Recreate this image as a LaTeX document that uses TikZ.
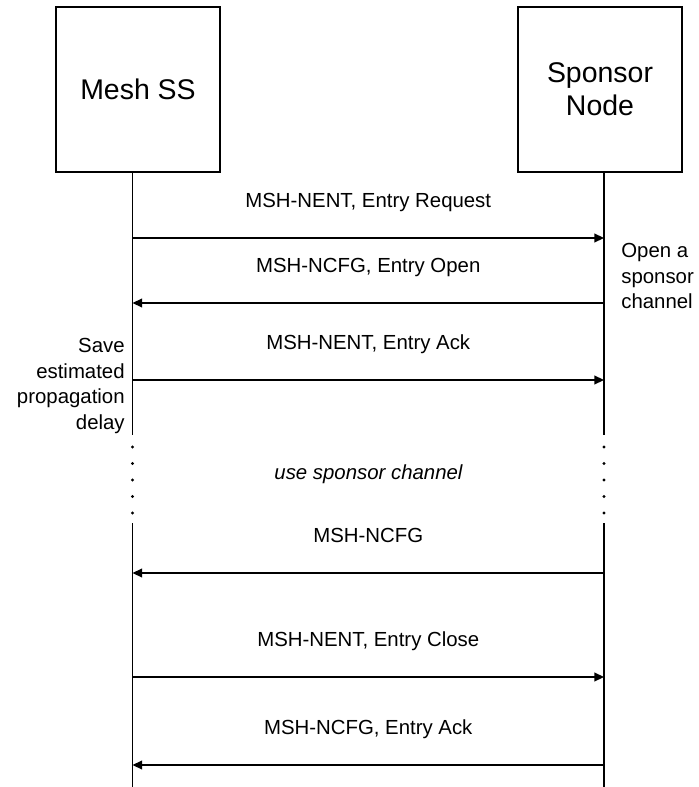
\documentclass[tikz,border=0pt]{standalone}
\usepackage{fontspec}
\setmainfont{Liberation Sans}
\usetikzlibrary{positioning, arrows.meta, calc}

\begin{document}
\begin{tikzpicture}[
  x=0.02cm, y=-0.02cm,
  font=\fontsize{11.6pt}{14.7pt}\selectfont,
  party/.style={draw, line width=0.6pt, minimum width=3.28cm,
                minimum height=3.3cm, align=center, inner sep=0pt,
                font=\fontsize{16.2pt}{18.7pt}\selectfont},
  life/.style={line width=0.6pt},
  msg/.style={-{Triangle[length=5.5pt, width=5pt]}, line width=0.9pt},
  lbl/.style={anchor=base, yshift=17.5pt},
  note/.style={inner sep=0pt},
]
\useasboundingbox (0,0) rectangle (698,787);

\node[party] (mesh) at (138, 89.5) {Mesh SS};
\node[party] (spon) at (600, 89.5) {Sponsor\\Node};

% lifelines, broken by the dotted gap
\coordinate (meshgap) at (132.5, 435);
\coordinate (spongap) at (604, 435);
\coordinate (meshres) at (132.5, 523);
\coordinate (sponres) at (604, 523);
\coordinate (meshend) at (132.5, 787);
\coordinate (sponend) at (604, 787);
\draw[life] (mesh.south -| meshgap) -- (meshgap);
\draw[life] (spon.south -| spongap) -- (spongap);
\draw[life] (meshres) -- (meshend);
\draw[life] (sponres) -- (sponend);
\foreach \y in {447, 463.5, 480, 496.5, 513} {
  \fill (132.5, \y) circle (0.9pt);
  \fill (604, \y) circle (0.9pt);
}

\foreach \n/\y in {1/238, 2/303, 3/380, 4/573, 5/677, 6/765} {
  \coordinate (m\n) at (132.5, \y);
  \coordinate (s\n) at (604, \y);
}
\draw[msg] (m1) -- node[lbl] {MSH-NENT, Entry Request} (s1);
\draw[msg] (s2) -- node[lbl] {MSH-NCFG, Entry Open} (m2);
\draw[msg] (m3) -- node[lbl] {MSH-NENT, Entry Ack} (s3);
\draw[msg] (s4) -- node[lbl] {MSH-NCFG} (m4);
\draw[msg] (m5) -- node[lbl] {MSH-NENT, Entry Close} (s5);
\draw[msg] (s6) -- node[lbl] {MSH-NCFG, Entry Ack} (m6);

\node[note, anchor=west, align=left] (open) at (621, 276)
  {Open a\\sponsor\\channel};
\node[note, anchor=east, align=right] (save) at (125, 386)
  {Save\\estimated\\propagation\\delay};
\node[font=\fontsize{11.6pt}{14.7pt}\selectfont\itshape] (use) at (368.5, 474)
  {use sponsor channel};

\end{tikzpicture}
\end{document}
